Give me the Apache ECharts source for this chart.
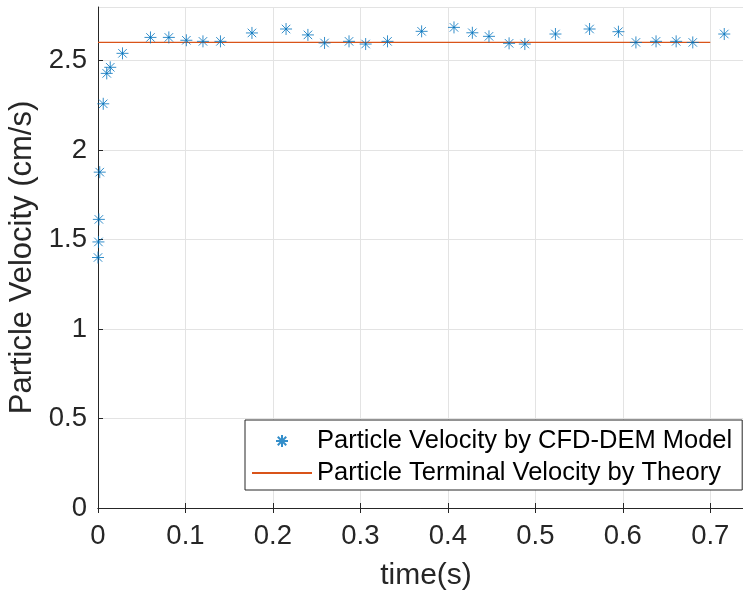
<!DOCTYPE html>
<html>
<head>
<meta charset="utf-8">
<style>
  html, body { margin: 0; padding: 0; background: #ffffff; }
  #chart { width: 743px; height: 596px; }
</style>
<script src="https://cdn.jsdelivr.net/npm/echarts@6/dist/echarts.min.js"></script>
</head>
<body>
<div id="chart"></div>
<script>
// ---- data ----
const simTimes = [0.000, 0.0005, 0.001, 0.002, 0.006, 0.010, 0.014, 0.028, 0.060, 0.081,
  0.101, 0.120, 0.140, 0.176, 0.215, 0.240, 0.259, 0.287, 0.306, 0.331,
  0.370, 0.407, 0.428, 0.447, 0.470, 0.488, 0.523, 0.562, 0.595, 0.615,
  0.638, 0.661, 0.680, 0.716];
const simVelocity = [1.40, 1.487, 1.613, 1.877, 2.259, 2.429, 2.463, 2.541, 2.630, 2.630,
  2.614, 2.608, 2.608, 2.655, 2.677, 2.644, 2.599, 2.608, 2.593, 2.608,
  2.664, 2.686, 2.656, 2.636, 2.597, 2.593, 2.649, 2.677, 2.662, 2.602,
  2.608, 2.608, 2.602, 2.649];
const theoryTimes = [0, 0.7];
const theoryVelocity = [2.602, 2.602];
const xRange = [0, 0.75];
const yRange = [0, 2.8];
const xTickValues = [0, 0.1, 0.2, 0.3, 0.4, 0.5, 0.6, 0.7];
const yTickValues = [0, 0.5, 1, 1.5, 2, 2.5];
const seriesNames = ['Particle Velocity by CFD-DEM Model', 'Particle Terminal Velocity by Theory'];
const axisNames = { x: 'time(s)', y: 'Particle Velocity (cm/s)' };

// ---- chart ----
const FONT = '"Liberation Sans", Arial, Helvetica, sans-serif';
const AXIS_COLOR = '#262626';
const GRID_COLOR = '#e3e3e3';
const BLUE = '#0072BD';
const ORANGE = '#D95319';
const ASTERISK = 'path://M0,-10L0,10M-10,0L10,0M-7.07,-7.07L7.07,7.07M-7.07,7.07L7.07,-7.07';

const scatterData = simTimes.map((t, i) => [t, simVelocity[i]]);
const theoryData = theoryTimes.map((t, i) => [t, theoryVelocity[i]]);

const chart = echarts.init(document.getElementById('chart'), null, { renderer: 'canvas' });

const fmt = v => String(Math.round(v * 10) / 10);
const inList = (list, v) => list.some(t => Math.abs(t - v) < 1e-9);

chart.setOption({
  animation: false,
  backgroundColor: '#ffffff',
  grid: { left: 98, top: 7, width: 656, height: 501, containLabel: false, outerBoundsMode: 'none' },
  xAxis: [{
    type: 'value',
    min: xRange[0], max: xRange[1], interval: 0.1,
    name: axisNames.x, nameLocation: 'middle', nameGap: 53,
    nameTextStyle: { fontFamily: FONT, fontSize: 30, color: AXIS_COLOR },
    axisLine: { show: true, onZero: false, lineStyle: { color: AXIS_COLOR, width: 1 } },
    axisTick: { show: true, inside: true, length: 5, lineStyle: { color: AXIS_COLOR } },
    axisLabel: { fontFamily: FONT, fontSize: 27.5, color: AXIS_COLOR, margin: 14, showMaxLabel: false,
      formatter: v => (inList(xTickValues, v) ? fmt(v) : '') },
    splitLine: { show: true, lineStyle: { color: GRID_COLOR, width: 1 } }
  }, {
    type: 'value', position: 'top',
    min: xRange[0], max: xRange[1], interval: 0.1,
    axisLine: { show: true, lineStyle: { color: AXIS_COLOR, width: 1 } },
    axisTick: { show: true, inside: true, length: 5, lineStyle: { color: AXIS_COLOR } },
    axisLabel: { show: false },
    splitLine: { show: false }
  }],
  yAxis: [{
    type: 'value',
    min: yRange[0], max: yRange[1], interval: 0.5,
    name: axisNames.y, nameLocation: 'middle', nameGap: 57, nameRotate: 90,
    nameTextStyle: { fontFamily: FONT, fontSize: 31, color: AXIS_COLOR },
    axisLine: { show: true, onZero: false, lineStyle: { color: AXIS_COLOR, width: 1 } },
    axisTick: { show: true, inside: true, length: 5, lineStyle: { color: AXIS_COLOR } },
    axisLabel: { fontFamily: FONT, fontSize: 27.5, color: AXIS_COLOR, margin: 11, showMaxLabel: false,
      formatter: v => (inList(yTickValues, v) ? fmt(v) : '') },
    splitLine: { show: true, lineStyle: { color: GRID_COLOR, width: 1 } }
  }],
  legend: {
    orient: 'vertical',
    left: 245, top: 420,
    padding: [8, 10, 4, 6],
    itemGap: 6,
    itemWidth: 60, itemHeight: 12,
    itemTextGap: 5,
    backgroundColor: '#ffffff',
    borderColor: AXIS_COLOR, borderWidth: 1,
    textStyle: { fontFamily: FONT, fontSize: 25.5, color: '#000000', lineHeight: 26 },
    data: [
      { name: seriesNames[0], icon: ASTERISK },
      { name: seriesNames[1], itemStyle: { color: 'rgba(0,0,0,0)', borderColor: 'rgba(0,0,0,0)', borderWidth: 0, opacity: 0 } }
    ],
    selectedMode: false
  },
  series: [{
    name: seriesNames[0],
    type: 'scatter',
    data: scatterData,
    symbol: ASTERISK,
    symbolSize: 12,
    symbolKeepAspect: true,
    itemStyle: { color: 'rgba(0,0,0,0)', borderColor: BLUE, borderWidth: 1 },
    emphasis: { disabled: true },
    z: 3
  }, {
    name: seriesNames[1],
    type: 'line',
    data: theoryData,
    showSymbol: false,
    symbol: 'none',
    lineStyle: { color: ORANGE, width: 1.2 },
    itemStyle: { color: ORANGE },
    emphasis: { disabled: true },
    z: 2
  }]
});
</script>
</body>
</html>
